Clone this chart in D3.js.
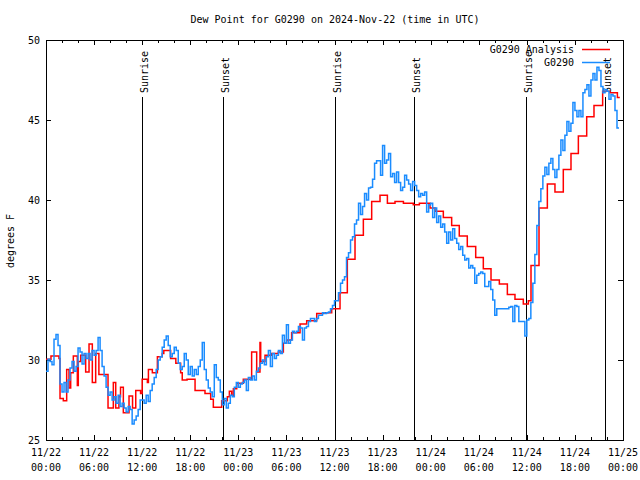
<!DOCTYPE html>
<html><head><meta charset="utf-8">
<script src="https://cdn.jsdelivr.net/npm/d3@7"></script>
<style>
body{margin:0;background:#fff}
text{font-family:"DejaVu Sans Mono","Liberation Mono",monospace;font-size:10px;fill:#000}
</style>
</head><body>
<svg id="chart" width="640" height="480"></svg>
<script>
// ---------- data ----------
const titleText = "Dew Point for G0290 on 2024-Nov-22 (time in UTC)";
const yLabel = "degrees F";
const startISO = "2024-11-22T00:00:00Z";
const endISO = "2024-11-25T00:00:00Z";
const yTicks = [25, 30, 35, 40, 45, 50];
const seriesNames = ["G0290 Analysis", "G0290"];

// Analysis (red) step values: hours after start, value
const analysisHours = [0, 0.62, 1.62, 1.75, 2.16, 2.58, 2.87, 3.08, 3.41, 3.91, 4.03, 4.33, 4.95, 5.37, 5.78, 6.2, 6.6, 7.74, 8.4, 8.7,
  9.1, 9.3, 9.65, 10.36, 10.8, 11.2, 11.8, 12.0, 12.65, 12.78, 13.27, 13.9, 14.5, 14.7, 15.55, 16.2, 16.8, 17.0, 17.6, 18.6,
  19.84, 20.55, 20.88, 21.92, 22.63, 22.88, 23.17, 23.38, 23.8, 24.62, 25.66, 26.29, 26.7, 26.79, 27.33, 28.16, 28.99, 29.62, 30.03, 30.65,
  31.7, 32.53, 33.78, 34.6, 35.65, 36.69, 37.6, 38.56, 39.6, 40.64, 41.68, 42.6, 43.55, 44.6, 45.83, 46.59, 47.92, 48.54, 49.58, 50.62,
  51.57, 52.57, 53.62, 54.57, 55.53, 56.57, 57.57, 58.52, 59.56, 60.19, 60.52, 61.52, 62.56, 63.51, 64.55, 65.51, 66.43, 67.47, 68.38, 69.46,
  70.37, 71.3, 71.6];
const analysisValues = [30.05, 30.25, 30.1, 27.6, 27.45, 29.4, 28.25, 29.2, 30.25, 28.4, 29.9, 30.3, 29.25, 31.0, 28.6, 30.4, 29.1, 27.0, 28.6, 27.0,
  27.7, 28.3, 26.7, 27.75, 27.0, 28.1, 27.9, 28.8, 28.6, 29.4, 29.2, 30.2, 30.4, 30.6, 30.1, 29.8, 29.2, 28.75, 28.8, 28.1,
  27.9, 27.55, 27.05, 27.45, 27.7, 28.05, 27.8, 28.2, 28.55, 28.8, 30.5, 29.25, 31.1, 29.9, 30.3, 30.4, 30.5, 31.05, 31.25, 31.7,
  32.25, 32.45, 32.9, 32.95, 33.2, 34.2, 36.3, 37.8, 38.8, 39.9, 40.3, 39.8, 39.9, 39.8, 39.7, 39.8, 39.5, 39.3, 38.9, 38.4,
  37.75, 37.1, 36.4, 35.7, 35.0, 34.75, 34.1, 33.8, 33.5, 33.7, 35.9, 39.5, 41.0, 40.5, 41.9, 42.9, 44.0, 45.2, 45.9, 46.8,
  46.7, 46.4, 46.4];

// Observations (blue): one reading every 15 minutes from start
const obsStepMinutes = 15;
const obsValues = [
  29.3, 30.05, 29.9, 29.7, 31.3, 31.6, 30.9, 28.5, 28.0, 28.6,
  28.0, 28.75, 29.5, 29.9, 29.3, 29.6, 30.75, 30.5, 29.75, 30.4,
  30.1, 30.4, 30.0, 30.6, 30.3, 30.6, 31.4, 30.6, 29.6, 29.0,
  28.3, 27.8, 28.0, 27.5, 27.7, 27.3, 27.8, 27.1, 27.3, 27.0,
  26.75, 27.1, 26.9, 26.0, 26.25, 26.5, 26.9, 27.5, 27.5, 27.3,
  27.8, 27.4, 28.1, 28.5, 28.9, 29.4, 30.0, 30.2, 30.8, 31.25,
  31.5, 30.9, 30.2, 30.4, 30.8, 30.6, 29.8, 29.4, 29.6, 30.4,
  30.0, 29.1, 29.6, 29.0, 29.4, 29.1, 29.6, 30.0, 31.1, 29.4,
  28.75, 28.25, 28.0, 27.7, 29.7, 28.9, 28.75, 28.0, 27.2, 27.6,
  27.0, 27.3, 27.8, 27.7, 28.3, 28.6, 28.3, 28.5, 28.6, 28.75,
  28.1, 28.9, 28.75, 29.0, 28.75, 29.3, 29.5, 29.8, 30.0, 29.7,
  30.2, 30.6, 29.6, 30.4, 30.1, 30.3, 30.6, 30.4, 31.55, 31.05,
  32.2, 31.05, 31.25, 31.8, 31.7, 31.8, 32.1, 32.0, 31.25, 32.0,
  32.1, 32.4, 32.6, 32.6, 32.4, 32.6, 32.8, 32.8, 32.95, 32.9,
  32.95, 33.0, 33.2, 33.4, 33.7, 33.7, 34.2, 34.8, 35.0, 35.2,
  36.4, 36.7, 37.5, 37.7, 38.5, 38.75, 39.8, 39.1, 39.6, 40.4,
  40.0, 40.75, 40.8, 41.3, 42.3, 42.45, 42.45, 41.55, 43.4, 42.3,
  42.5, 42.9, 41.45, 41.65, 41.1, 41.75, 41.1, 40.6, 40.8, 41.55,
  41.25, 41.0, 40.6, 41.15, 40.9, 40.6, 40.2, 40.4, 40.3, 40.5,
  39.25, 39.7, 39.8, 38.9, 39.5, 38.6, 39.0, 38.3, 38.5, 38.0,
  37.3, 38.0, 37.5, 38.2, 37.6, 37.3, 36.9, 37.1, 36.55, 36.25,
  36.35, 35.75, 35.9, 35.75, 34.8, 35.3, 35.4, 35.5, 35.4, 34.6,
  34.6, 34.9, 34.4, 33.75, 32.8, 33.2, 33.2, 33.2, 33.2, 33.2,
  33.2, 33.3, 33.35, 32.4, 33.4, 33.35, 32.4, 32.4, 32.4, 31.5,
  32.5, 32.6, 33.6, 34.8, 36.6, 38.4, 39.9, 40.7, 41.5, 42.05,
  41.6, 42.3, 42.6, 41.9, 41.4, 41.9, 42.8, 43.75, 43.1, 44.05,
  44.9, 44.3, 44.8, 46.1, 45.6, 45.2, 45.6, 45.2, 46.7, 46.9,
  47.2, 46.5, 47.5, 47.9, 47.5, 48.3, 48.1, 47.1, 46.7, 46.9,
  46.8, 46.3, 46.6, 46.5, 45.6, 44.5, 44.5];

// Sun events: hours after start
const eventLabels = ["Sunrise", "Sunset", "Sunrise", "Sunset", "Sunrise", "Sunset"];
const eventHours = [12.0, 22.05, 36.0, 45.88, 59.93, 69.78];

// ---------- chart ----------
const svg = d3.select("#chart");
const W = 640, H = 480;
const M = {left: 46, right: 623, top: 40, bottom: 440};
const t0 = new Date(startISO), t1 = new Date(endISO);
const hr = h => new Date(t0.getTime() + h * 3600e3);

const x = d3.scaleUtc().domain([t0, t1]).range([M.left, M.right]);
const y = d3.scaleLinear().domain([25, 50]).range([M.bottom, M.top]);

svg.append("rect").attr("width", W).attr("height", H).attr("fill", "#fff");

// title
svg.append("text").attr("x", 335).attr("y", 23).attr("text-anchor", "middle").text(titleText);

// y label
svg.append("text").attr("transform", "translate(14,241) rotate(-90)")
  .attr("text-anchor", "middle").text(yLabel);

const majorX = d3.utcHour.every(6).range(t0, new Date(t1.getTime() + 1));
const minorX = d3.utcHour.every(2).range(t0, new Date(t1.getTime() + 1)).filter(d => d.getUTCHours() % 6 !== 0);

function styleAxis(g) {
  g.select(".domain").remove();
  g.selectAll(".tick line").attr("stroke", "#000").attr("shape-rendering", "crispEdges");
  g.selectAll(".tick text").remove();
}

svg.append("g").attr("transform", `translate(0,${M.bottom})`)
  .call(d3.axisBottom(x).tickValues(majorX).tickSize(-5).tickFormat("")).call(styleAxis);
svg.append("g").attr("transform", `translate(0,${M.bottom})`)
  .call(d3.axisBottom(x).tickValues(minorX).tickSize(-3).tickFormat("")).call(styleAxis);
svg.append("g").attr("transform", `translate(0,${M.top})`)
  .call(d3.axisTop(x).tickValues(majorX).tickSize(-5).tickFormat("")).call(styleAxis);
svg.append("g").attr("transform", `translate(0,${M.top})`)
  .call(d3.axisTop(x).tickValues(minorX).tickSize(-3).tickFormat("")).call(styleAxis);
svg.append("g").attr("transform", `translate(${M.left},0)`)
  .call(d3.axisLeft(y).tickValues(yTicks).tickSize(-5).tickFormat("")).call(styleAxis);
svg.append("g").attr("transform", `translate(${M.right},0)`)
  .call(d3.axisRight(y).tickValues(yTicks).tickSize(-5).tickFormat("")).call(styleAxis);

// tick labels
const fmtD = d3.utcFormat("%m/%d"), fmtT = d3.utcFormat("%H:%M");
const xl = svg.append("g").selectAll("text").data(majorX).join("text")
  .attr("text-anchor", "middle");
xl.append("tspan").attr("x", d => x(d)).attr("y", 456).text(fmtD);
xl.append("tspan").attr("x", d => x(d)).attr("y", 471).text(fmtT);

svg.append("g").selectAll("text").data(yTicks).join("text")
  .attr("x", 40).attr("y", d => y(d) + 3.5).attr("text-anchor", "end").text(d => d);

// sun event lines + labels
const ev = eventHours.map((h, i) => ({t: hr(h), label: eventLabels[i]}));
svg.append("g").selectAll("line").data(ev).join("line")
  .attr("x1", d => Math.round(x(d.t)) + 0.5).attr("x2", d => Math.round(x(d.t)) + 0.5)
  .attr("y1", 97).attr("y2", M.bottom).attr("stroke", "#000").attr("stroke-width", 1);
svg.append("g").selectAll("text").data(ev).join("text")
  .attr("transform", d => `translate(${Math.round(x(d.t)) + 6},93) rotate(-90)`)
  .attr("text-anchor", "start").text(d => d.label);

// frame
svg.append("rect").attr("x", M.left + 0.5).attr("y", M.top + 0.5)
  .attr("width", M.right - M.left).attr("height", M.bottom - M.top)
  .attr("fill", "none").attr("stroke", "#000").attr("stroke-width", 1);

// series
const red = "#ff0000", blue = "#1a8cff";
const analysis = analysisHours.map((h, i) => ({t: hr(h), v: analysisValues[i]}));
const obs = obsValues.map((v, i) => ({t: hr(i * obsStepMinutes / 60), v}));

const line = d3.line().x(d => x(d.t)).y(d => y(d.v)).curve(d3.curveStepAfter);

svg.append("path").datum(analysis).attr("d", line)
  .attr("fill", "none").attr("stroke", red).attr("stroke-width", 1.5);
svg.append("path").datum(obs).attr("d", line)
  .attr("fill", "none").attr("stroke", blue).attr("stroke-width", 1.5);

// legend
const legendColors = [red, blue];
const lg = svg.append("g");
seriesNames.forEach((n, i) => {
  const yy = 49 + i * 13;
  lg.append("text").attr("x", 574).attr("y", yy + 3.5).attr("text-anchor", "end").text(n);
  lg.append("line").attr("x1", 582).attr("x2", 610).attr("y1", yy + 0.5).attr("y2", yy + 0.5)
    .attr("stroke", legendColors[i]).attr("stroke-width", 1.5);
});
</script>
</body></html>
